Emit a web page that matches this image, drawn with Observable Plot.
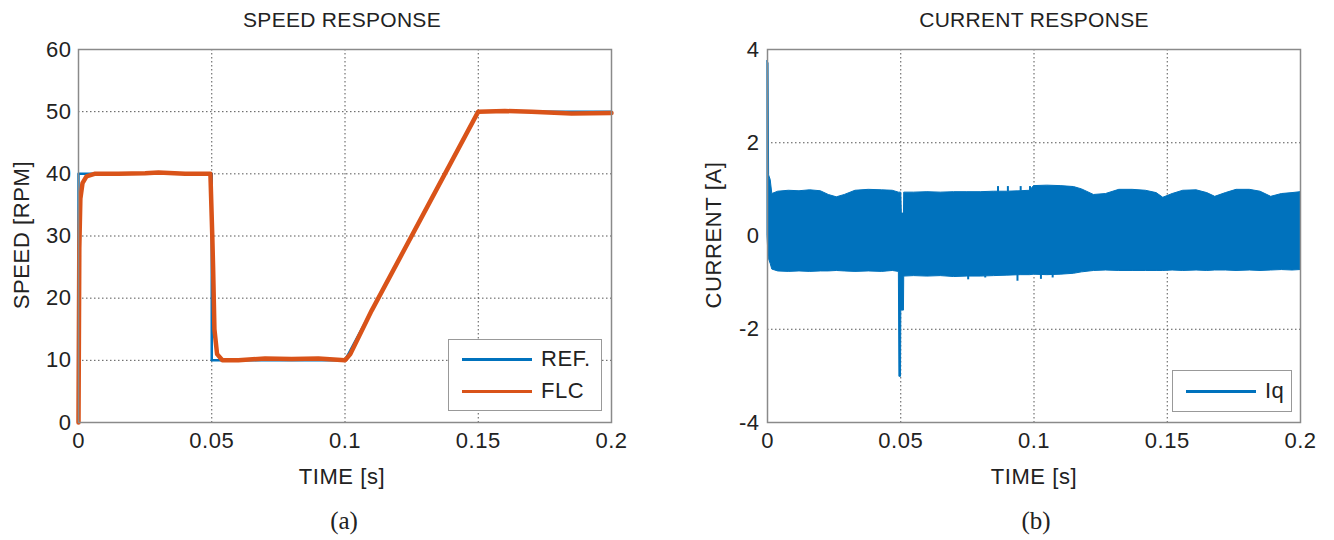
<!DOCTYPE html>
<html>
<head>
<meta charset="utf-8">
<script src="https://cdn.jsdelivr.net/npm/d3@7"></script>
<script src="https://cdn.jsdelivr.net/npm/@observablehq/plot@0.6"></script>
<style>
  body { margin: 0; background: #fff; }
  #wrap { position: relative; width: 1334px; height: 540px; overflow: hidden; font-family: "Liberation Sans", Arial, sans-serif; color: #222; }
  .abs { position: absolute; white-space: nowrap; }
  .title { font-size: 21px; letter-spacing: 0.3px; transform: translate(-50%, -50%); }
  .xlab { font-size: 22px; letter-spacing: 0.6px; transform: translate(-50%, -50%); }
  .ylab { font-size: 22px; letter-spacing: 0.6px; transform: translate(-50%, -50%) rotate(-90deg); }
  .cap { font-family: "Liberation Serif", "Times New Roman", serif; font-size: 25px; transform: translate(-50%, -50%); }
  .legend { position: absolute; border: 1.5px solid #999; background: #fff; box-sizing: border-box; }
  .legline { position: absolute; height: 3px; }
  .legtext { position: absolute; font-size: 22px; letter-spacing: 0.5px; transform: translateY(-50%); }
  .chart { position: absolute; top: 0; }
</style>
</head>
<body>
<div id="wrap"></div>
<script>
// ---------- Speed response (a) ----------
const refTime = [0, 0, 0.05, 0.05, 0.1, 0.15, 0.2];
const refSpeed = [0, 40, 40, 10, 10, 50, 50];

const flcTime = [0, 0.0003, 0.0007, 0.0015, 0.003, 0.006, 0.015, 0.025, 0.03, 0.04, 0.0495, 0.0502, 0.0505, 0.051, 0.052, 0.054, 0.06, 0.07, 0.08, 0.09, 0.1, 0.102, 0.11, 0.12, 0.13, 0.14, 0.15, 0.16, 0.17, 0.185, 0.2];
const flcSpeed = [0, 28, 36, 38.5, 39.6, 40, 40, 40.1, 40.2, 40, 40, 30, 25, 15, 11, 10, 10, 10.3, 10.2, 10.3, 10, 11, 18, 26, 34, 42, 50, 50.1, 50, 49.7, 49.8];

// ---------- Current response (b): envelope of the Iq band ----------
const iqTime  = [0, 0.0004, 0.0006, 0.0012, 0.0018, 0.004, 0.008, 0.012, 0.016, 0.020, 0.023, 0.026, 0.029, 0.033, 0.038, 0.043, 0.047, 0.0493, 0.0495, 0.0501, 0.0502, 0.0504, 0.0512, 0.0513, 0.055, 0.060, 0.065, 0.070, 0.075, 0.080, 0.085, 0.090, 0.095, 0.0985, 0.1, 0.105, 0.110, 0.115, 0.118, 0.1225, 0.127, 0.132, 0.137, 0.142, 0.146, 0.1485, 0.152, 0.156, 0.161, 0.165, 0.168, 0.172, 0.176, 0.181, 0.185, 0.189, 0.193, 0.197, 0.2];
const iqUpper = [3.75, 3.7, 1.3, 1.2, 0.9, 0.95, 0.97, 0.96, 0.98, 0.96, 0.88, 0.83, 0.88, 0.97, 0.99, 0.98, 0.97, 0.93, 0.93, 0.93, 0.93, 0.48, 0.48, 0.93, 0.93, 0.94, 0.93, 0.94, 0.94, 0.94, 0.95, 0.95, 0.96, 0.97, 1.07, 1.08, 1.07, 1.05, 1.0, 0.88, 0.9, 0.99, 0.99, 0.97, 0.92, 0.82, 0.9, 0.97, 0.98, 0.92, 0.84, 0.92, 0.99, 0.99, 0.95, 0.84, 0.9, 0.92, 0.94];
const iqLower = [0, -0.45, -0.5, -0.6, -0.72, -0.76, -0.77, -0.76, -0.77, -0.76, -0.76, -0.75, -0.76, -0.77, -0.76, -0.77, -0.75, -0.77, -3.02, -3.02, -1.6, -1.6, -1.6, -0.87, -0.86, -0.87, -0.86, -0.88, -0.87, -0.87, -0.86, -0.85, -0.84, -0.84, -0.83, -0.84, -0.83, -0.81, -0.78, -0.75, -0.74, -0.75, -0.75, -0.75, -0.75, -0.75, -0.74, -0.75, -0.74, -0.75, -0.74, -0.74, -0.75, -0.74, -0.75, -0.74, -0.73, -0.74, -0.73];

// narrow spikes outside the band
const upSpikeTime = [0.0865, 0.0902, 0.0950, 0.0985];
const upSpikeFrom = [0.94, 0.95, 0.96, 0.96];
const upSpikeTo   = [1.06, 1.06, 1.06, 1.06];
const loSpikeTime = [0.0753, 0.0817, 0.0938, 0.1026, 0.107];
const loSpikeFrom = [-0.86, -0.86, -0.83, -0.83, -0.82];
const loSpikeTo   = [-0.94, -0.9, -0.97, -0.93, -0.9];

const timeTicks = [0, 0.05, 0.1, 0.15, 0.2];
const timeLabels = ["0", "0.05", "0.1", "0.15", "0.2"];
const speedTicks = [0, 10, 20, 30, 40, 50, 60];
const currentTicks = [-4, -2, 0, 2, 4];

const BLUE = "#0072BD", ORANGE = "#D95319";

const refData = refTime.map((t, i) => ({t, v: refSpeed[i]}));
const flcData = flcTime.map((t, i) => ({t, v: flcSpeed[i]}));
const iqData = iqTime.map((t, i) => ({t, lo: iqLower[i], hi: iqUpper[i]}));
const upSpikes = upSpikeTime.map((t, i) => ({t, a: upSpikeFrom[i], b: upSpikeTo[i]}));
const loSpikes = loSpikeTime.map((t, i) => ({t, a: loSpikeFrom[i], b: loSpikeTo[i]}));

const fmtTime = d => timeLabels[timeTicks.indexOf(d)] ?? String(d);
const fmtPlain = d => String(d);
const style = {fontFamily: "Liberation Sans, Arial, sans-serif", fontSize: "22px", letterSpacing: "0.5px", color: "#222", background: "transparent", overflow: "visible"};
const gridStyle = {stroke: "#444", strokeOpacity: 0.9, strokeDasharray: "1.5,2.5", strokeWidth: 1};

const speedChart = Plot.plot({
  width: 667, height: 470,
  marginLeft: 78, marginRight: 56, marginTop: 49, marginBottom: 48,
  style,
  x: {domain: [0, 0.2]},
  y: {domain: [0, 60]},
  marks: [
    Plot.gridX(timeTicks.slice(1, -1), gridStyle),
    Plot.gridY(speedTicks.slice(1, -1), gridStyle),
    Plot.axisX(timeTicks, {tickSize: 0, tickPadding: 10, tickFormat: fmtTime, label: null}),
    Plot.axisY(speedTicks, {tickSize: 0, tickPadding: 7, tickFormat: fmtPlain, label: null}),
    Plot.line(refData, {x: "t", y: "v", stroke: BLUE, strokeWidth: 2.5}),
    Plot.line(flcData, {x: "t", y: "v", stroke: ORANGE, strokeWidth: 4.5}),
    Plot.frame({stroke: "#8a8a8a", strokeWidth: 1.5})
  ]
});

const currentChart = Plot.plot({
  width: 667, height: 470,
  marginLeft: 100, marginRight: 34, marginTop: 49, marginBottom: 48,
  style,
  x: {domain: [0, 0.2]},
  y: {domain: [-4, 4]},
  marks: [
    Plot.gridX(timeTicks.slice(1, -1), gridStyle),
    Plot.gridY(currentTicks.slice(1, -1), gridStyle),
    Plot.axisX(timeTicks, {tickSize: 0, tickPadding: 10, tickFormat: fmtTime, label: null}),
    Plot.axisY(currentTicks, {tickSize: 0, tickPadding: 8, tickFormat: fmtPlain, label: null}),
    Plot.areaY(iqData, {x: "t", y1: "lo", y2: "hi", fill: BLUE, stroke: BLUE, strokeWidth: 1}),
    Plot.ruleX(upSpikes, {x: "t", y1: "a", y2: "b", stroke: BLUE, strokeWidth: 2}),
    Plot.ruleX(loSpikes, {x: "t", y1: "a", y2: "b", stroke: BLUE, strokeWidth: 2}),
    Plot.frame({stroke: "#8a8a8a", strokeWidth: 1.5})
  ]
});

const wrap = document.getElementById("wrap");
speedChart.classList.add("chart"); speedChart.style.left = "0px";
currentChart.classList.add("chart"); currentChart.style.left = "667px";
wrap.appendChild(speedChart);
wrap.appendChild(currentChart);

function addText(cls, text, x, y) {
  const d = document.createElement("div");
  d.className = "abs " + cls;
  d.textContent = text;
  d.style.left = x + "px"; d.style.top = y + "px";
  wrap.appendChild(d);
}
addText("title", "SPEED RESPONSE", 342, 20);
addText("title", "CURRENT RESPONSE", 1034, 20);
addText("ylab", "SPEED [RPM]", 22, 235);
addText("ylab", "CURRENT [A]", 714, 235);
addText("xlab", "TIME [s]", 342, 477);
addText("xlab", "TIME [s]", 1034, 477);
addText("cap", "(a)", 344, 521);
addText("cap", "(b)", 1036, 521);

function addLegend(box, items) {
  const lg = document.createElement("div");
  lg.className = "legend";
  Object.assign(lg.style, {left: box.x + "px", top: box.y + "px", width: box.w + "px", height: box.h + "px"});
  items.forEach(it => {
    const ln = document.createElement("div");
    ln.className = "legline";
    Object.assign(ln.style, {left: it.lx + "px", top: (it.ly - 1.5) + "px", width: it.lw + "px", background: it.color});
    lg.appendChild(ln);
    const tx = document.createElement("div");
    tx.className = "legtext";
    tx.textContent = it.label;
    Object.assign(tx.style, {left: it.tx + "px", top: it.ly + "px"});
    lg.appendChild(tx);
  });
  wrap.appendChild(lg);
}
addLegend({x: 448, y: 339, w: 154, h: 72}, [
  {label: "REF.", color: BLUE, lx: 13, lw: 70, ly: 19, tx: 92},
  {label: "FLC", color: ORANGE, lx: 13, lw: 70, ly: 51, tx: 92}
]);
addLegend({x: 1172, y: 370, w: 120, h: 42}, [
  {label: "Iq", color: BLUE, lx: 13, lw: 70, ly: 20, tx: 92}
]);
</script>
</body>
</html>
